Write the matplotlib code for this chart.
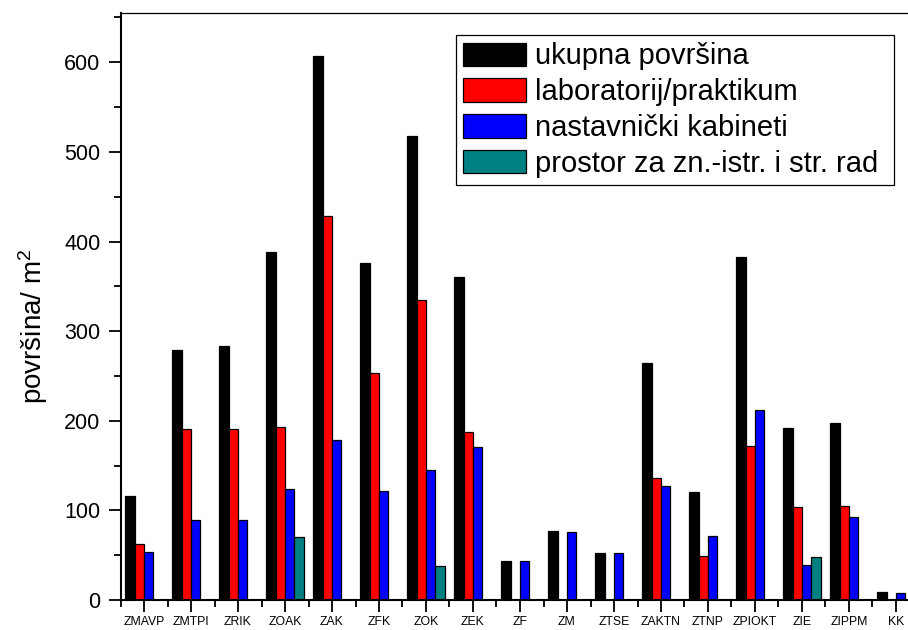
import numpy as np
import matplotlib
matplotlib.use("Agg")
import matplotlib.pyplot as plt
from matplotlib.ticker import MultipleLocator, FixedLocator

plt.rcParams['font.family'] = ['Liberation Sans', 'DejaVu Sans']
plt.rcParams['mathtext.default'] = 'regular'

categories = ["ZMAVP", "ZMTPI", "ZRIK", "ZOAK", "ZAK", "ZFK", "ZOK", "ZEK", "ZF",
              "ZM", "ZTSE", "ZAKTN", "ZTNP", "ZPIOKT", "ZIE", "ZIPPM", "KK"]

ukupna = [116, 279, 283, 388, 607, 376, 518, 360, 43, 77, 52, 264, 120, 383, 192, 198, 9]
laboratorij = [62, 191, 191, 193, 428, 253, 335, 188, 0, 0, 0, 136, 49, 172, 104, 105, 0]
kabineti = [54, 89, 89, 124, 178, 122, 145, 171, 43, 76, 52, 127, 71, 212, 39, 93, 8]
prostor = [0, 0, 0, 70, 0, 0, 38, 0, 0, 0, 0, 0, 0, 0, 48, 0, 0]

series = [
    (ukupna, "ukupna površina", "#000000"),
    (laboratorij, "laboratorij/praktikum", "#ff0000"),
    (kabineti, "nastavnički kabineti", "#0000ff"),
    (prostor, "prostor za zn.-istr. i str. rad", "#008080"),
]

W, H = 908, 630
fig = plt.figure(figsize=(W / 100, H / 100), dpi=100)
ax_w, ax_h = 799, 587
ax = fig.add_axes([120.5 / W, 30 / H, ax_w / W, ax_h / H])

x = np.arange(len(categories))
width = 0.2
offsets = [-0.3, -0.1, 0.1, 0.3]
for (vals, label, color), off in zip(series, offsets):
    vals = np.array(vals, dtype=float)
    ax.bar(x + off, vals, width, color=color, edgecolor="black",
           linewidth=0.9, label=label)

ax.set_xlim(-0.5, len(categories) - 0.5)
ax.set_ylim(0, 655)

ax.set_xticks(x)
ax.set_xticklabels(categories, fontsize=8.8)
ax.xaxis.set_minor_locator(FixedLocator(np.arange(-0.5, len(categories), 1.0)))
ax.yaxis.set_major_locator(MultipleLocator(100))
ax.yaxis.set_minor_locator(MultipleLocator(50))

ax.tick_params(axis='both', which='major', direction='out', length=8.5, width=1.3)
ax.tick_params(axis='both', which='minor', direction='out', length=5, width=1.3)
ax.tick_params(axis='y', which='major', labelsize=15.5, pad=6)
ax.tick_params(axis='x', which='major', pad=3)

for side in ['left', 'bottom']:
    ax.spines[side].set_linewidth(1.5)
ax.spines['top'].set_linewidth(0.9)
ax.spines['right'].set_linewidth(0.9)

ax.set_ylabel("površina/ m$^{2}$", fontsize=20)
ax.yaxis.set_label_coords((50 - 120.5) / ax_w, (600 - 326) / ax_h)

# legend box in pixel terms, converted to axes fractions
lx0, lx1, ly0, ly1 = 456, 894, 35, 183
leg = ax.legend(loc='upper left',
                bbox_to_anchor=((lx0 - 120.5) / ax_w, (600 - ly1) / ax_h,
                                (lx1 - lx0) / ax_w, (ly1 - ly0) / ax_h),
                mode='expand',
                fontsize=21, frameon=True, fancybox=False, edgecolor='black',
                framealpha=1, handlelength=2.15, handleheight=0.85,
                handletextpad=0.3, labelspacing=0.27, borderpad=0.25,
                borderaxespad=0)
leg.get_frame().set_linewidth(0.9)

fig.savefig("out.png", dpi=100)
